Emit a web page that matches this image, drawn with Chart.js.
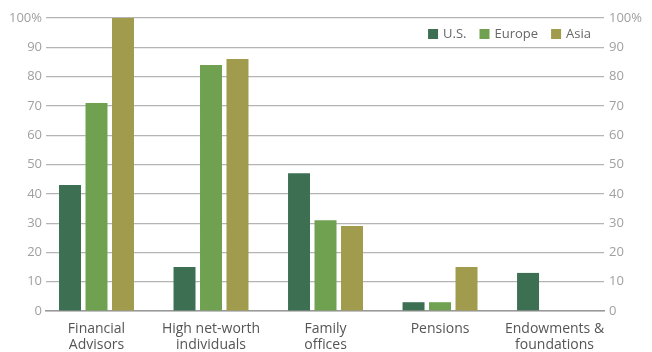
<!DOCTYPE html>
<html>
<head>
<meta charset="utf-8">
<title>Investor demand by region</title>
<script src="https://cdn.jsdelivr.net/npm/chart.js@4/dist/chart.umd.min.js"></script>
<style>
    html, body { margin: 0; padding: 0; background: #fff; }
    #wrap { position: relative; width: 652px; height: 352px; }
</style>
</head>
<body>
<div id="wrap"><canvas id="demandChart"></canvas></div>
<script>
/* ========================================
   Data
   ======================================== */

const categories = [
    ['Financial', 'Advisors'],
    ['High net-worth', 'individuals'],
    ['Family', 'offices'],
    ['Pensions'],
    ['Endowments &', 'foundations']
];
const usValues = [43, 15, 47, 3, 13];
const europeValues = [71, 84, 31, 3, 0];
const asiaValues = [100, 86, 29, 15, 0];
const yTicks = [0, 10, 20, 30, 40, 50, 60, 70, 80, 90, 100];

const FONT = '"Open Sans", "Liberation Sans", sans-serif';
const GRID = '#b4b4b4';

// bars sit on numeric x positions 0..4 so the group spacing can be tuned
function toPoints(values) {
    return values.map(function (v, i) { return { x: i, y: v }; });
}

function yTickLabel(value) {
    return value === 100 ? '100%' : String(value);
}

/* ========================================
   Inline legend (top right, inside the plot)
   ======================================== */

const insideLegend = {
    id: 'insideLegend',
    afterDraw: function (chart) {
        const c = chart.ctx;
        const area = chart.chartArea;
        const box = 10, gap = 5, itemGap = 13;
        const y = area.top + 16;

        c.save();
        c.font = '13px ' + FONT;
        c.textBaseline = 'middle';

        const items = chart.data.datasets.map(function (ds) {
            return { label: ds.label, color: ds.backgroundColor, w: c.measureText(ds.label).width };
        });
        let total = 0;
        items.forEach(function (it, i) {
            total += box + gap + it.w + (i > 0 ? itemGap : 0);
        });

        let x = area.right - 13 - total;
        items.forEach(function (it) {
            c.fillStyle = it.color;
            c.fillRect(x, y - box / 2, box, box);
            c.fillStyle = '#666';
            c.fillText(it.label, x + box + gap, y);
            x += box + gap + it.w + itemGap;
        });
        c.restore();
    }
};

/* ========================================
   Chart
   ======================================== */

document.addEventListener('DOMContentLoaded', function () {
    const ctx = document.getElementById('demandChart').getContext('2d');

    const barStyle = { categoryPercentage: 0.694, barPercentage: 0.83 };

    new Chart(ctx, {
        type: 'bar',
        data: {
            datasets: [
                Object.assign({ label: 'U.S.', data: toPoints(usValues), backgroundColor: '#3d7052' }, barStyle),
                Object.assign({ label: 'Europe', data: toPoints(europeValues), backgroundColor: '#6fa151' }, barStyle),
                Object.assign({ label: 'Asia', data: toPoints(asiaValues), backgroundColor: '#a09b4d' }, barStyle)
            ]
        },
        plugins: [insideLegend],
        options: {
            responsive: true,
            maintainAspectRatio: false,
            animation: false,
            layout: { padding: { top: 18 } },
            plugins: {
                legend: { display: false },
                tooltip: { enabled: false }
            },
            scales: {
                x: {
                    type: 'linear',
                    offset: false,
                    min: -0.441,
                    max: 4.432,
                    afterFit: function (scale) { scale.height = 41; },
                    border: { color: '#999', width: 1.5 },
                    grid: { display: false },
                    ticks: {
                        stepSize: 1,
                        includeBounds: false,
                        autoSkip: false,
                        maxRotation: 0,
                        padding: 2,
                        color: '#555',
                        font: { family: FONT, size: 14, lineHeight: 1.15 },
                        callback: function (value) {
                            return Number.isInteger(value) ? categories[value] : '';
                        }
                    }
                },
                y: {
                    position: 'left',
                    min: 0,
                    max: 100,
                    afterFit: function (scale) { scale.width = 46; },
                    afterBuildTicks: function (scale) {
                        scale.ticks = yTicks.map(function (v) { return { value: v }; });
                    },
                    border: { display: false },
                    grid: { color: GRID, lineWidth: 1.2, drawTicks: false },
                    ticks: {
                        padding: 4,
                        color: '#a0a0a0',
                        font: { family: FONT, size: 13 },
                        callback: yTickLabel
                    }
                },
                y2: {
                    position: 'right',
                    min: 0,
                    max: 100,
                    afterFit: function (scale) { scale.width = 48; },
                    afterBuildTicks: function (scale) {
                        scale.ticks = yTicks.map(function (v) { return { value: v }; });
                    },
                    border: { display: false },
                    grid: { drawOnChartArea: false, drawTicks: false },
                    ticks: {
                        padding: 5,
                        color: '#a0a0a0',
                        font: { family: FONT, size: 13 },
                        callback: yTickLabel
                    }
                }
            }
        }
    });
});
</script>
</body>
</html>
